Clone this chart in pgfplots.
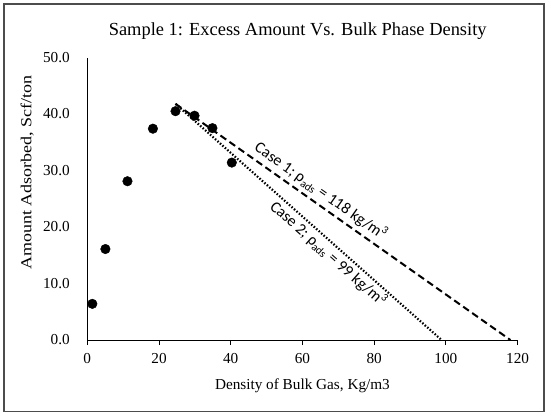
\documentclass[border=0pt]{standalone}
\usepackage{pgfplots}
\pgfplotsset{compat=1.18}
\usepackage{fontspec}
\setmainfont{Liberation Serif}
\newfontfamily\carlito{Carlito}

\begin{document}
\begin{tikzpicture}
\useasboundingbox (-87.3bp,-78bp) rectangle (462.7bp,340bp);
\draw[line width=1.5bp, black!70] (-83.3bp,-71.3bp) rectangle (456.7bp,336bp);
\begin{axis}[
    at={(0,0)}, anchor=south west,
    scale only axis,
    width=430.3bp, height=282.5bp,
    xmin=0, xmax=120, ymin=0, ymax=50,
    axis x line*=bottom, axis y line*=left,
    axis line style={line width=1bp, black},
    xtick={0,20,...,120}, ytick={0,10,...,50},
    tick align=outside,
    x tick style={line width=1bp, black},
    major tick length=5bp,
    y tick style={draw=none},
    /pgf/number format/assume math mode=true,
    ticklabel style={font=\fontsize{15.3}{18}\selectfont},
    xticklabel style={yshift=-5bp},
    yticklabel style={/pgf/number format/fixed, /pgf/number format/fixed zerofill,
        /pgf/number format/precision=1, xshift=-9bp},
    title={Sample 1: Excess Amount Vs. Bulk Phase Density},
    title style={at={(axis description cs:0.489,1.0726)}, anchor=center, font=\fontsize{18.5}{22}\selectfont},
    xlabel={Density of Bulk Gas, Kg/m3},
    xlabel style={at={(axis description cs:0.5,-0.163)}, anchor=center, font=\fontsize{15.3}{18}\selectfont},
    ylabel={\scalebox{1.18}[1]{Amount Adsorbed, Scf/ton}},
    ylabel style={at={(axis description cs:-0.140,0.593)}, anchor=center, font=\fontsize{15.3}{18}\selectfont},
    clip=false,
]
\addplot[only marks, mark=*, mark size=4.8bp, black] coordinates {
    (1.4,6.4) (5.05,16.1) (11.2,28.1) (18.3,37.4)
    (24.6,40.5) (29.9,39.7) (34.9,37.5) (40.3,31.4)
};
\addplot[black, line width=2bp, dash pattern=on 7bp off 4bp] coordinates {(24.6,41.8) (118,0)};
\addplot[black, line width=2.2bp, dash pattern=on 1.5bp off 1.8bp] coordinates {(24.6,41.8) (98.8,0)};
\node[rotate=-35.2, font=\carlito\fontsize{16}{19}\selectfont] at (axis cs:65.2,26.4) {Case 1; ρ\textsubscript{ads} = 118 kg/m\textsuperscript{3}};
\node[rotate=-41.6, font=\carlito\fontsize{16}{19}\selectfont] at (axis cs:67.3,15.3) {Case 2; ρ\textsubscript{ads} = 99 kg/m\textsuperscript{3}};
\end{axis}
\end{tikzpicture}
\end{document}
